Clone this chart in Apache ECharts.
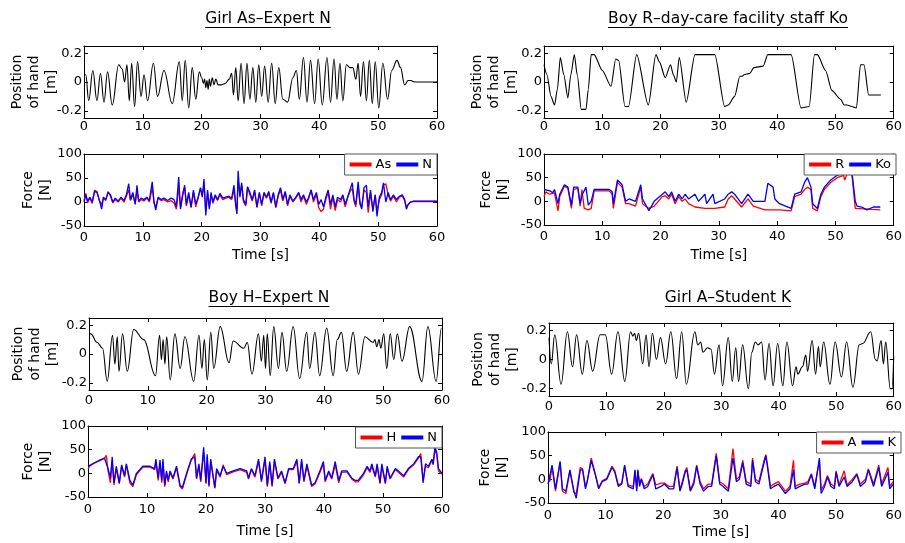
<!DOCTYPE html>
<html><head><meta charset="utf-8">
<script src="https://cdn.jsdelivr.net/npm/echarts@6/dist/echarts.min.js"></script>
<style>html,body{margin:0;padding:0;background:#fff}#c{width:905px;height:543px}</style>
</head><body><div id="c"></div>
<script>
// ---------- data ----------
const titles = ['Girl As\u2013Expert N', 'Boy R\u2013day-care facility staff Ko', 'Boy H\u2013Expert N', 'Girl A\u2013Student K'];
const xTicks = [0, 10, 20, 30, 40, 50, 60];
const posTicks = [-0.2, 0, 0.2];
const forceTicks = [-50, 0, 50, 100];

const posAs = [[0,0.05],[0.3,0.05],[0.8,-0.13],[1.5,0.08],[2.2,-0.13],[2.8,0.06],[3.4,-0.14],[4.0,0.07],[4.8,-0.16],[5.9,0.12],[6.5,0.09],[6.9,0.0],[7.3,0.12],[7.7,-0.13],[8.1,0.13],[8.6,-0.17],[9.1,0.14],[9.7,-0.1],[10.2,0.05],[10.8,-0.13],[11.8,0.13],[12.5,-0.1],[13.6,0.08],[15.0,-0.15],[16.2,0.14],[16.7,-0.13],[17.2,0.15],[17.8,-0.18],[18.4,0.1],[19.0,-0.12],[19.6,0.07],[20.0,0.03],[20.3,-0.01],[20.5,0.02],[20.7,-0.04],[20.9,0.01],[21.1,-0.05],[21.3,0.02],[21.5,-0.03],[21.8,0.03],[22.1,-0.02],[22.4,0.02],[22.8,-0.02],[23.3,-0.02],[24.0,-0.01],[24.7,0.02],[25.1,0.06],[25.4,-0.09],[25.8,0.1],[26.2,-0.13],[26.7,0.13],[27.2,-0.15],[27.7,0.13],[28.2,-0.12],[28.7,0.1],[29.2,-0.14],[29.7,0.12],[30.2,-0.1],[30.7,0.11],[31.3,-0.14],[31.9,0.13],[32.5,-0.15],[33.1,0.1],[33.8,-0.12],[34.6,-0.14],[35.5,0.03],[36.1,0.08],[36.6,-0.12],[37.3,0.17],[37.9,-0.14],[38.5,0.15],[39.2,-0.15],[39.8,0.16],[40.5,-0.16],[41.3,0.17],[41.9,-0.14],[42.5,0.16],[43.0,-0.12],[43.5,0.13],[44.0,-0.13],[44.6,0.12],[45.2,0.1],[45.7,0.1],[46.2,0.02],[46.6,0.13],[47.0,-0.1],[47.5,0.14],[48.0,-0.13],[48.5,0.15],[49.0,-0.15],[49.5,0.14],[50.1,-0.18],[50.8,0.13],[51.6,-0.12],[52.3,0.08],[53.2,0.15],[53.8,0.1],[54.5,-0.02],[55.1,0.01],[55.5,0.01],[56.2,0.0],[60,0.0]];

const forceAs = [[0,3],[0.3,18],[0.6,-2],[1,8],[1.4,-3],[1.8,25],[2.2,22],[2.6,3],[3,-5],[3.3,8],[3.7,3],[4.1,22],[4.5,12],[4.9,-2],[5.3,5],[5.8,0],[6.3,8],[6.8,0],[7.2,12],[7.6,25],[7.9,3],[8.3,15],[8.7,-3],[9.0,22],[9.3,0],[9.7,5],[10.2,2],[10.7,8],[11.1,0],[11.6,30],[11.9,-2],[12.2,-10],[12.6,8],[13.1,3],[13.6,5],[14.2,0],[14.8,3],[15.3,-2],[15.7,-15],[16.1,30],[16.4,-10],[16.8,20],[17.1,30],[17.4,-8],[17.8,15],[18.2,-12],[18.6,20],[19.0,-10],[19.4,8],[19.8,28],[20.1,15],[20.4,35],[20.7,-20],[21.0,20],[21.3,-10],[21.6,15],[21.9,-3],[22.3,12],[22.7,3],[23.1,15],[23.6,5],[24.1,8],[24.6,10],[25.1,5],[25.5,25],[25.8,-5],[26.0,-15],[26.2,45],[26.5,15],[26.8,35],[27.1,0],[27.5,-8],[27.8,30],[28.2,15],[28.6,2],[29.0,22],[29.4,-12],[29.8,18],[30.2,-8],[30.6,18],[31.0,8],[31.4,18],[31.8,-3],[32.2,18],[32.6,-12],[33.0,12],[33.4,25],[33.8,2],[34.2,20],[34.6,-8],[35.0,12],[35.5,0],[36.0,8],[36.5,18],[36.9,0],[37.3,12],[37.8,-5],[38.2,8],[38.6,25],[39.0,0],[39.5,15],[39.9,-12],[40.3,-20],[40.7,-15],[41.1,5],[41.5,20],[41.9,-15],[42.3,10],[42.7,-18],[43.1,5],[43.6,0],[44.0,12],[44.4,-10],[44.8,8],[45.2,22],[45.6,28],[45.9,2],[46.2,-10],[46.6,35],[46.9,-5],[47.2,-12],[47.6,25],[48.0,20],[48.3,-22],[48.7,18],[49.1,-15],[49.5,15],[49.8,-20],[50.2,5],[50.6,15],[50.9,35],[51.3,38],[51.7,15],[52.1,2],[52.6,12],[53.1,0],[53.6,10],[54.1,12],[54.5,3],[54.8,-10],[55.1,-8],[55.5,0],[56,1],[60,1]];

const forceN1 = [[0,0],[0.3,15],[0.6,2],[1,10],[1.4,0],[1.8,22],[2.2,20],[2.6,5],[3,-15],[3.3,10],[3.7,5],[4.1,20],[4.5,15],[4.9,0],[5.3,8],[5.8,2],[6.3,10],[6.8,3],[7.2,15],[7.6,38],[7.9,5],[8.3,20],[8.7,-5],[9.0,35],[9.3,2],[9.7,8],[10.2,5],[10.7,10],[11.1,3],[11.6,42],[11.9,0],[12.2,-17],[12.6,10],[13.1,5],[13.6,8],[14.2,3],[14.8,8],[15.3,5],[15.7,-10],[16.1,52],[16.4,-15],[16.8,15],[17.1,35],[17.4,-5],[17.8,20],[18.2,-10],[18.6,25],[19.0,-5],[19.4,10],[19.8,30],[20.1,10],[20.4,48],[20.7,-28],[21.0,25],[21.3,-15],[21.6,20],[21.9,0],[22.3,15],[22.7,5],[23.1,18],[23.6,8],[24.1,10],[24.6,12],[25.1,8],[25.5,35],[25.8,-10],[26.0,-25],[26.2,65],[26.5,10],[26.8,40],[27.1,5],[27.5,-5],[27.8,32],[28.2,20],[28.6,5],[29.0,25],[29.4,-10],[29.8,20],[30.2,-5],[30.6,20],[31.0,10],[31.4,22],[31.8,0],[32.2,20],[32.6,-10],[33.0,15],[33.4,30],[33.8,5],[34.2,22],[34.6,-5],[35.0,15],[35.5,2],[36.0,10],[36.5,20],[36.9,5],[37.3,15],[37.8,0],[38.2,10],[38.6,25],[39.0,5],[39.5,20],[39.9,-5],[40.3,5],[40.7,-10],[41.1,10],[41.5,25],[41.9,-5],[42.3,15],[42.7,-10],[43.1,10],[43.6,5],[44.0,15],[44.4,-5],[44.8,10],[45.2,25],[45.6,40],[45.9,5],[46.2,-5],[46.6,42],[46.9,0],[47.2,-15],[47.6,30],[48.0,35],[48.3,-10],[48.7,25],[49.1,-20],[49.5,15],[49.8,-30],[50.2,10],[50.6,20],[50.9,40],[51.3,0],[51.7,20],[52.1,5],[52.6,15],[53.1,5],[53.6,12],[54.1,15],[54.5,5],[54.8,-15],[55.1,-5],[55.5,0],[56,2],[60,2]];

const posR = [[0,0.12],[0.5,0.05],[1.2,-0.1],[1.8,-0.16],[2.3,-0.05],[2.8,0.17],[3.4,0.05],[4.1,-0.11],[4.6,0.05],[5.2,0.19],[5.7,0.05],[6.4,-0.19],[7.2,-0.19],[7.6,-0.05],[8.1,0.19],[8.6,0.19],[10.0,0.08],[11.5,-0.03],[12.3,0.16],[12.8,0.15],[13.9,-0.17],[14.5,-0.17],[15.9,0.19],[17.9,-0.16],[19.2,0.19],[19.8,0.14],[20.8,0.03],[21.7,0.12],[22.2,0.05],[22.7,0.0],[23.2,0.17],[24.4,-0.14],[25.9,0.19],[29.3,0.19],[31.0,-0.17],[31.6,-0.16],[32.7,-0.1],[33.6,0.04],[34.0,0.04],[34.3,0.05],[35.3,0.06],[36.0,0.1],[37.6,0.11],[38.4,0.19],[42.4,0.19],[44.1,-0.18],[45.5,-0.17],[46.4,0.19],[46.9,0.19],[48.3,0.08],[49.4,-0.06],[50.9,-0.12],[51.5,-0.16],[52.0,-0.16],[52.8,-0.17],[53.6,-0.18],[54.3,0.12],[54.9,0.12],[55.7,-0.09],[57.8,-0.09]];

const forceR = [[0,10],[0.3,20],[1,15],[1.8,18],[2.4,-20],[2.7,10],[3.5,32],[4.1,28],[4.7,-15],[5.1,25],[5.8,28],[6.2,-10],[6.5,25],[6.9,-15],[7.6,-18],[8.1,-15],[8.6,22],[9.5,22],[11.2,22],[11.7,15],[11.9,-15],[12.6,40],[13.4,30],[14,-5],[14.6,-5],[15.7,-10],[16.6,30],[16.9,-5],[18,-15],[18.9,-10],[20.3,10],[20.8,12],[21.4,5],[21.9,15],[22.5,-5],[23.1,10],[23.7,0],[24.2,5],[24.8,-5],[25.9,-12],[27.6,-15],[29.3,-15],[31,-12],[31.6,5],[32.2,12],[32.7,5],[33.9,-12],[35,5],[35.9,-10],[37.9,-18],[40.4,-18],[42.4,-20],[43,10],[44.1,15],[44.7,25],[45.2,30],[45.8,25],[46.1,-15],[46.9,-20],[47.5,10],[48.1,25],[49.2,40],[50.3,50],[51.4,55],[51.6,45],[52,58],[52.8,60],[53.4,-15],[53.6,-18],[57.7,-18]];

const forceKo = [[0,25],[1,22],[1.5,18],[1.8,25],[2.4,-5],[2.7,15],[3.5,35],[4.1,30],[4.7,-8],[5.1,30],[5.8,30],[6.2,-5],[6.6,15],[7.2,30],[7.6,-8],[8.1,0],[8.6,25],[9.5,25],[11.2,25],[11.7,20],[11.9,-5],[12.6,45],[13.4,35],[14,0],[14.6,5],[15.7,0],[16.6,35],[16.9,5],[18,-20],[18.9,0],[20.3,15],[20.8,20],[21.4,10],[21.9,20],[22.5,0],[23.1,15],[23.7,5],[24.2,15],[24.8,5],[25.9,15],[26.5,0],[27.6,15],[27.9,-5],[29,15],[29.3,-5],[31,5],[31.6,15],[32.2,20],[32.7,15],[33.9,-5],[35,15],[35.9,0],[37.9,0],[38.2,0],[38.4,38],[39.3,30],[39.6,5],[40.4,-5],[42.4,-15],[43,15],[44.1,20],[44.7,40],[45.2,50],[45.8,30],[46.1,-5],[46.9,-15],[47.5,15],[48.1,30],[49.2,45],[50.3,55],[51.4,60],[52.8,65],[53.4,0],[53.7,-10],[54.5,-12],[55.4,-18],[56.5,-12],[57.7,-12]];

const posH = [[0,0.14],[0.3,0.14],[1.4,0.08],[2.3,0.04],[3.1,-0.19],[4.0,0.13],[4.4,-0.07],[4.8,0.12],[5.1,-0.12],[5.7,0.14],[6.5,-0.12],[7.6,0.17],[9.3,0.1],[11.3,-0.15],[12.0,0.13],[12.3,-0.04],[12.6,0.1],[12.9,-0.07],[13.2,0.12],[13.8,-0.18],[14.6,0.14],[15.5,-0.1],[16.3,0.12],[17.8,-0.19],[18.7,0.13],[19.2,-0.1],[19.6,0.1],[20.1,-0.18],[20.7,0.15],[21.2,-0.1],[22.3,0.19],[23.8,-0.06],[24.5,0.09],[26.3,0.04],[26.9,0.08],[27.7,-0.14],[28.8,0.14],[29.3,-0.05],[29.7,0.13],[30.0,-0.1],[30.3,0.14],[30.8,-0.15],[31.4,0.19],[32.2,-0.1],[32.8,0.15],[33.6,-0.12],[34.7,0.19],[35.8,-0.17],[37.0,0.15],[37.5,-0.1],[38.4,0.15],[39.2,-0.15],[40.4,0.18],[41.5,-0.15],[42.2,0.1],[42.9,0.15],[43.8,-0.12],[44.9,0.15],[45.8,-0.14],[46.9,0.12],[48.3,0.08],[48.6,0.1],[48.9,0.05],[49.3,0.1],[49.6,0.04],[50.1,0.14],[50.6,-0.1],[51.2,0.14],[51.8,-0.04],[52.4,0.14],[53.2,-0.05],[54.5,0.19],[56.6,-0.19],[57.6,0.19],[59.0,-0.19],[59.9,0.18],[60,0.18]];

const forceH = [[0,10],[0.3,15],[0.8,20],[1.5,24],[2,27],[2.8,32],[3.1,38],[3.4,5],[3.8,-20],[4.1,25],[4.4,-25],[4.8,10],[5.3,-22],[5.7,15],[6.2,-8],[6.5,18],[7.1,-20],[7.6,-28],[8.2,-3],[9.3,13],[10.5,13],[11.3,8],[11.5,25],[11.9,-15],[12.2,22],[12.5,-20],[12.7,25],[13,-28],[13.3,0],[13.6,-18],[13.9,2],[14.4,-12],[15,12],[15.6,-28],[16,-33],[16.7,-3],[17.5,28],[18.1,42],[18.4,-12],[18.8,15],[19.1,-18],[19.6,45],[20,-22],[20.2,35],[20.5,-28],[20.8,25],[21.2,-8],[21.5,-32],[21.8,5],[22.4,-8],[22.9,18],[23.5,-3],[24.6,3],[25.8,8],[26.9,2],[27.2,-12],[27.7,8],[28.3,-8],[28.9,25],[29.4,-18],[30,28],[30.4,-28],[30.8,20],[31.2,-28],[31.6,25],[32.2,-12],[32.8,2],[33.4,-22],[34,8],[34.8,8],[35.4,25],[35.8,-22],[36.2,25],[36.6,-18],[37.1,15],[37.9,-28],[38.5,-22],[39.3,2],[39.9,20],[40.2,-18],[40.8,2],[41.3,-12],[41.9,18],[42.5,-20],[43,2],[43.9,3],[44.7,-12],[45.3,-18],[45.8,-18],[46.7,-3],[47.3,12],[47.8,2],[48.1,15],[48.7,-8],[49,15],[49.5,-22],[49.8,15],[50.4,-22],[50.7,10],[51.2,-12],[52.1,8],[52.6,2],[53.5,-8],[54.3,8],[55.2,18],[56,32],[56.4,42],[56.8,-15],[57.2,15],[57.7,12],[58.3,28],[58.5,18],[58.8,50],[59.1,40],[59.4,5],[59.7,2],[60,-2]];

const forceN2 = [[0,15],[0.3,18],[0.8,20],[1.5,25],[2,28],[2.8,32],[3.1,35],[3.4,10],[3.8,-10],[4.1,35],[4.4,-20],[4.8,15],[5.3,-20],[5.7,18],[6.2,-5],[6.5,20],[7.1,-15],[7.6,-25],[8.2,0],[9.3,15],[10.5,15],[11.3,10],[11.5,30],[11.9,-10],[12.2,28],[12.5,-15],[12.7,30],[13,-25],[13.3,5],[13.6,-15],[13.9,5],[14.4,-10],[15,15],[15.6,-25],[16,-30],[16.7,0],[17.5,30],[18.1,35],[18.4,-10],[18.8,20],[19.1,-15],[19.6,55],[20,-20],[20.2,40],[20.5,-25],[20.8,30],[21.2,-5],[21.5,-30],[21.8,10],[22.4,-5],[22.9,15],[23.5,0],[24.6,5],[25.8,10],[26.9,5],[27.2,-10],[27.7,10],[28.3,-5],[28.9,30],[29.4,-15],[30,35],[30.4,-25],[30.8,25],[31.2,-25],[31.6,30],[32.2,-10],[32.8,5],[33.4,-20],[34,10],[34.8,10],[35.4,30],[35.8,-20],[36.2,30],[36.6,-15],[37.1,20],[37.9,-25],[38.5,-20],[39.3,5],[39.9,25],[40.2,-15],[40.8,5],[41.3,-10],[41.9,25],[42.5,-15],[43,5],[43.9,5],[44.7,-10],[45.3,-15],[45.8,-15],[46.7,0],[47.3,15],[47.8,5],[48.1,20],[48.7,-5],[49,20],[49.5,-20],[49.8,20],[50.4,-20],[50.7,15],[51.2,-10],[52.1,10],[52.6,5],[53.5,-5],[54.3,10],[55.2,20],[56,35],[56.4,35],[56.8,-20],[57.2,20],[57.7,15],[58.3,30],[58.5,20],[58.8,55],[59.1,45],[59.4,10],[59.7,5],[60,0]];

const posA = [[0,0.15],[0.4,-0.03],[1.0,0.17],[2.1,-0.17],[3.2,0.19],[4.1,-0.05],[4.8,0.17],[5.8,-0.1],[6.6,0.13],[7.6,-0.08],[8.9,0.17],[9.8,0.17],[10.9,-0.1],[12.0,0.19],[13.2,-0.15],[14.2,0.19],[14.6,0.16],[14.9,0.18],[15.2,0.13],[15.6,0.18],[16.3,-0.03],[16.9,0.17],[17.4,-0.05],[18.0,0.18],[18.7,0.0],[19.4,0.15],[20.3,-0.03],[21.2,0.19],[22.2,-0.13],[23.1,0.19],[23.9,-0.17],[25.4,0.19],[25.9,0.1],[26.4,0.12],[26.8,0.05],[27.6,0.08],[28.2,0.07],[28.8,-0.1],[29.6,0.1],[30.2,-0.18],[31.2,0.15],[31.9,-0.15],[32.5,0.08],[33.0,-0.15],[33.7,0.1],[34.7,-0.2],[35.3,0.05],[35.9,0.12],[36.4,0.1],[37.0,0.12],[37.6,-0.14],[38.3,0.11],[39.0,-0.18],[39.8,0.11],[40.7,-0.18],[41.4,0.12],[42.4,-0.18],[43.0,-0.05],[43.3,-0.1],[44.1,-0.05],[44.7,0.03],[45.0,-0.08],[45.8,0.13],[46.4,-0.1],[46.9,0.09],[47.2,-0.05],[47.8,0.12],[48.9,-0.17],[49.8,0.12],[50.9,-0.12],[51.8,0.12],[52.9,-0.19],[54.0,0.1],[54.6,0.11],[56.0,0.19],[56.8,0.0],[57.1,-0.01],[57.8,0.13],[58.2,-0.03],[58.6,0.12],[59.4,-0.2],[59.7,-0.2],[60,0.02]];

const forceA = [[0,0],[0.3,-5],[0.7,25],[1.3,-25],[2.1,35],[2.5,-25],[3.1,-30],[3.8,18],[4.5,-28],[4.9,-30],[5.6,25],[6,22],[6.5,-15],[6.8,-5],[7.5,45],[8.2,12],[8.8,-18],[9.4,-3],[10.2,2],[11.1,28],[11.6,18],[12.2,-12],[12.8,-8],[13.3,28],[13.9,-12],[14.8,-15],[15.1,18],[15.4,-20],[15.6,18],[15.9,-10],[16.2,2],[16.7,-15],[17.3,-10],[18.2,12],[18.7,-12],[19.6,-8],[20.2,-8],[21,-15],[21.8,-15],[22.4,28],[22.9,-22],[23.3,-5],[23.8,18],[24.1,25],[24.7,-22],[25.3,-5],[25.8,30],[26.4,-5],[27,-20],[27.8,-10],[28.4,-10],[29.2,55],[29.8,-5],[30.4,-10],[31.3,-20],[32.1,65],[32.7,0],[33.2,5],[33.8,40],[34.4,-5],[35.2,-10],[35.5,45],[36,0],[36.6,-5],[37.5,40],[37.8,52],[38.1,30],[38.6,-15],[39.2,-10],[40,-5],[40.6,-15],[41.2,-25],[42,-15],[42.6,40],[42.9,-15],[43.7,-10],[44.6,-8],[45.1,-5],[45.7,12],[46.3,-15],[47.1,40],[47.4,-22],[48,-10],[48.5,8],[49.1,-10],[49.7,-15],[50,18],[50.5,-12],[51.4,18],[51.9,-12],[52.8,0],[53.6,12],[54.2,-10],[55.1,0],[55.6,22],[56.5,-10],[57.4,30],[57.9,-10],[59,25],[59.3,-15],[59.9,-5]];

const forceK = [[0,-10],[0.3,-10],[0.7,30],[1.3,-20],[2.1,38],[2.5,-20],[3.1,-25],[3.8,20],[4.5,-25],[4.9,-40],[5.6,20],[6,20],[6.5,-20],[6.8,-5],[7.5,40],[8.2,10],[8.8,-20],[9.4,-5],[10.2,0],[11.1,25],[11.6,15],[12.2,-15],[12.8,-10],[13.3,30],[13.9,-15],[14.8,-20],[15.1,20],[15.4,-25],[15.6,20],[15.9,-15],[16.2,0],[16.7,-20],[17.3,-15],[18.2,10],[18.7,-20],[19.6,-15],[20.2,-10],[21,-20],[21.8,-20],[22.4,25],[22.9,-25],[23.3,-10],[23.8,15],[24.1,20],[24.7,-25],[25.3,-10],[25.8,28],[26.4,-10],[27,-25],[27.8,-15],[28.4,-15],[29.2,50],[29.8,-10],[30.4,-15],[31.3,-25],[32.1,45],[32.7,-5],[33.2,0],[33.8,35],[34.4,-10],[35.2,-15],[35.5,40],[36,-5],[36.6,-10],[37.5,35],[37.8,50],[38.1,25],[38.6,-20],[39.2,-15],[40,-10],[40.6,-20],[41.2,-30],[42,-20],[42.6,20],[42.9,-20],[43.7,-15],[44.6,-10],[45.1,-10],[45.7,10],[46.3,-20],[47.1,45],[47.4,-30],[48,-15],[48.5,5],[49.1,-15],[49.7,-20],[50,15],[50.5,-15],[51.4,5],[51.9,-15],[52.8,-5],[53.6,10],[54.2,-15],[55.1,-5],[55.6,20],[56.5,-15],[57.4,25],[57.9,-15],[59,15],[59.3,-20],[59.9,-10]];

// ---------- layout ----------
const FONT = 'DejaVu Sans';
const RED = '#ff0000', BLUE = '#0000ff';
const panels = [
  {kind:'pos', g:[84,46,353,72], s:[{name:'pos1', data:posAs, color:'#000'}], nameGap:24, smooth:0.4, lm:2},
  {kind:'force', g:[84,154,353,72], s:[{name:'As', data:forceAs, color:RED},{name:'N', data:forceN1, color:BLUE}], nameGap:30, timeGap:22, legend:{right:468, top:154}, lm:5},
  {kind:'pos', g:[544,46,353,72], s:[{name:'pos2', data:posR, color:'#000'}], nameGap:24, smooth:0.25, lm:2},
  {kind:'force', g:[544,154,353,71], s:[{name:'R', data:forceR, color:RED},{name:'Ko', data:forceKo, color:BLUE}], nameGap:32, timeGap:23, legend:{right:9, top:154}, lm:5},
  {kind:'pos', g:[89,318,353,72], s:[{name:'pos3', data:posH, color:'#000'}], nameGap:28, smooth:0.4, lm:4},
  {kind:'force', g:[88,426,354,71], s:[{name:'H', data:forceH, color:RED},{name:'N', data:forceN2, color:BLUE}], nameGap:34, timeGap:27, legend:{right:463, top:427}, lm:6},
  {kind:'pos', g:[549,323,353,73], s:[{name:'pos4', data:posA, color:'#000'}], nameGap:28, smooth:0.4, lm:4},
  {kind:'force', g:[548,432,353,71], s:[{name:'A', data:forceA, color:RED},{name:'K', data:forceK, color:BLUE}], nameGap:37, timeGap:22, legend:{right:4, top:432}, lm:6}
];
const titlePos = [[268,19],[728,19],[269,298],[728,298]];

const grid = [], xAxis = [], yAxis = [], series = [], legend = [], graphic = [];
const tickStyle = {show:true, inside:true, length:4, lineStyle:{color:'#000', width:1}};
const lineStyle = {show:true, onZero:false, lineStyle:{color:'#000', width:1}};
const lbl = {color:'#000', fontFamily:FONT, fontSize:13};

panels.forEach((p, i) => {
  grid.push({left:p.g[0], top:p.g[1], width:p.g[2], height:p.g[3], containLabel:false});
  const xBase = {type:'value', gridIndex:i, min:xTicks[0], max:xTicks[xTicks.length-1], interval:10, splitLine:{show:false}, axisLine:lineStyle, axisTick:tickStyle};
  xAxis.push(Object.assign({}, xBase, {position:'bottom', axisLabel:Object.assign({margin:p.lm}, lbl),
    name: p.kind === 'force' ? 'Time [s]' : '', nameLocation:'middle', nameGap:p.timeGap || 20, nameMoveOverlap:false,
    nameTextStyle:{color:'#000', fontFamily:FONT, fontSize:14}}));
  xAxis.push(Object.assign({}, xBase, {position:'top', axisLabel:{show:false}}));
  let yBase;
  if (p.kind === 'pos') {
    yBase = {type:'value', gridIndex:i, min:-0.25, max:0.25, splitLine:{show:false}, axisLine:lineStyle,
      axisTick:Object.assign({customValues:posTicks}, tickStyle)};
    yAxis.push(Object.assign({}, yBase, {position:'left', axisLabel:Object.assign({customValues:posTicks, margin:2}, lbl),
      name:'Position\nof hand\n[m]'}));
  } else {
    yBase = {type:'value', gridIndex:i, min:forceTicks[0], max:forceTicks[forceTicks.length-1], interval:50, splitLine:{show:false}, axisLine:lineStyle, axisTick:tickStyle};
    yAxis.push(Object.assign({}, yBase, {position:'left', axisLabel:Object.assign({margin:2}, lbl), name:'Force\n[N]'}));
  }
  const ya = yAxis[yAxis.length-1];
  ya.nameLocation = 'middle'; ya.nameGap = p.nameGap; ya.nameRotate = 90; ya.nameMoveOverlap = false;
  ya.nameTextStyle = {color:'#000', fontFamily:FONT, fontSize:14, lineHeight:17};
  yAxis.push(Object.assign({}, yBase, {position:'right', axisLabel:{show:false}, name:''}));

  p.s.forEach(s => {
    series.push({type:'line', name:s.name, data:s.data, xAxisIndex:2*i, yAxisIndex:2*i,
      showSymbol:false, symbol:'none', smooth: p.kind === 'pos' ? p.smooth : false, smoothMonotone:'x',
      lineStyle:{color:s.color, width: p.kind === 'pos' ? 1.1 : 1.3}, itemStyle:{color:s.color},
      animation:false, silent:true});
  });
  if (p.legend) {
    legend.push({right:p.legend.right, top:p.legend.top, orient:'horizontal', data:p.s.map(s=>s.name),
      icon:'rect', itemWidth:22, itemHeight:4, itemGap:5, selectedMode:false,
      borderColor:'#555', borderWidth:1, backgroundColor:'#fff', borderRadius:0, padding:[4,5],
      textStyle:{color:'#000', fontFamily:FONT, fontSize:13, padding:[0,0,0,-1]}, z:10});
  }
});

const TFONT = '15.5px "' + FONT + '"';
const ctx = document.createElement('canvas').getContext('2d');
ctx.font = TFONT;
titles.forEach((t, i) => {
  const [cx, cy] = titlePos[i];
  const w = ctx.measureText(t).width;
  graphic.push({type:'text', x:cx, y:cy, style:{text:t, fill:'#000', font:TFONT, textAlign:'center', textVerticalAlign:'middle'}});
  graphic.push({type:'line', shape:{x1:cx - w/2, y1:cy + 8.5, x2:cx + w/2, y2:cy + 8.5}, style:{stroke:'#000', lineWidth:1}});
});

const chart = echarts.init(document.getElementById('c'), null, {renderer:'canvas'});
chart.setOption({animation:false, backgroundColor:'#fff', grid, xAxis, yAxis, series, legend, graphic});
</script>
</body></html>
